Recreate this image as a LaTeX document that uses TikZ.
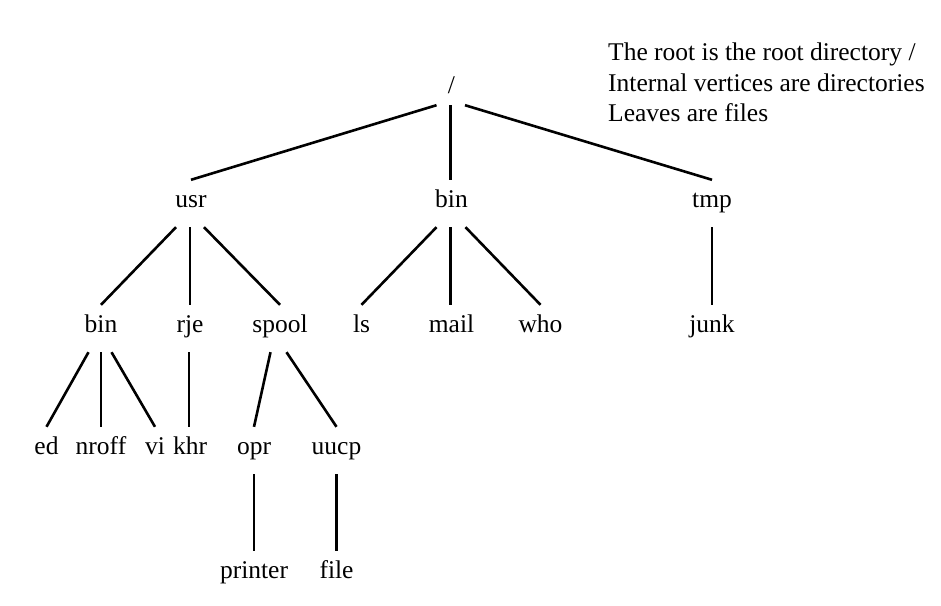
\documentclass[tikz,border=0pt]{standalone}
\usepackage{fontspec}
\setmainfont{Liberation Serif}
\begin{document}
\begin{tikzpicture}[x=1pt,y=-1pt,
  every node/.style={font=\fontsize{25.5pt}{30pt}\selectfont},
  tnode/.style={anchor=base, inner sep=0pt, text height=27pt, text depth=20pt},
  note/.style={anchor=base west, inner sep=0pt},
  edge/.style={line width=2.6pt}]
\useasboundingbox (0,0) rectangle (941,605);
% notes
\node[note] (n1) at (608,60) {The root is the root directory /};
\node[note] (n2) at (608,91) {Internal vertices are directories};
\node[note] (n3) at (608,121) {Leaves are files};
% level 0
\node[tnode, text depth=12pt] (root) at (451.5,93) {/};
% level 1
\node[tnode] (usr) at (191,207) {usr};
\node[tnode] (bin1) at (451.5,207) {bin};
\node[tnode] (tmp) at (712,207) {tmp};
% level 2
\node[tnode] (bin2) at (101,332) {bin};
\node[tnode] (rje) at (190,332) {rje};
\node[tnode] (spool) at (280,332) {spool};
\node[tnode] (ls) at (361.5,332) {ls};
\node[tnode] (mail) at (451.5,332) {mail};
\node[tnode] (who) at (540.5,332) {who};
\node[tnode] (junk) at (712,332) {junk};
% level 3
\node[tnode] (ed) at (46.5,454) {ed};
\node[tnode] (nroff) at (101,454) {nroff};
\node[tnode] (vi) at (155,454) {vi};
\node[tnode] (khr) at (190,454) {khr};
\node[tnode] (opr) at (254,454) {opr};
\node[tnode] (uucp) at (336.5,454) {uucp};
% level 4
\node[tnode] (printer) at (254,578) {printer};
\node[tnode] (file) at (336.5,578) {file};
% edges
\draw[edge] ([xshift=-15pt]root.south) -- (usr.north);
\draw[edge] ([xshift=-1pt]root.south) -- ([xshift=-1pt]bin1.north);
\draw[edge] ([xshift=13.5pt]root.south) -- (tmp.north);
\draw[edge] ([xshift=-15pt]usr.south) -- (bin2.north);
\draw[edge] ([xshift=-1pt]usr.south) -- (rje.north);
\draw[edge] ([xshift=13pt]usr.south) -- (spool.north);
\draw[edge] ([xshift=-15pt]bin1.south) -- (ls.north);
\draw[edge] ([xshift=-1pt]bin1.south) -- ([xshift=-1pt]mail.north);
\draw[edge] ([xshift=14pt]bin1.south) -- (who.north);
\draw[edge] (tmp.south) -- (junk.north);
\draw[edge] ([xshift=-12.5pt]bin2.south) -- (ed.north);
\draw[edge] (bin2.south) -- (nroff.north);
\draw[edge] ([xshift=10.5pt]bin2.south) -- (vi.north);
\draw[edge] ([xshift=-1pt]rje.south) -- ([xshift=-1pt]khr.north);
\draw[edge] ([xshift=-9.5pt]spool.south) -- (opr.north);
\draw[edge] ([xshift=6.5pt]spool.south) -- (uucp.north);
\draw[edge] (opr.south) -- (printer.north);
\draw[edge] (uucp.south) -- (file.north);
\end{tikzpicture}
\end{document}
